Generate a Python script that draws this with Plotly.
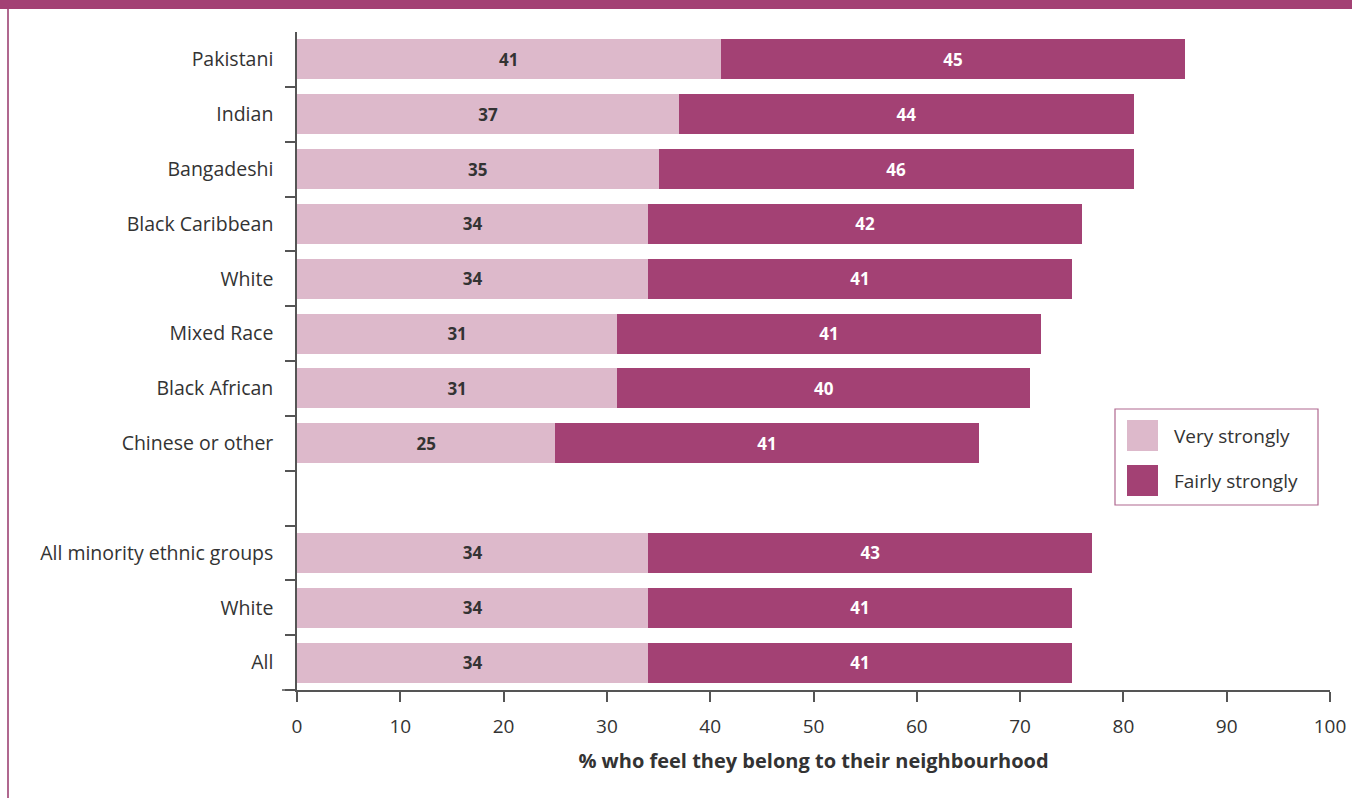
import plotly.graph_objects as go

# Data
ids = ["Pakistani", "Indian", "Bangadeshi", "Black Caribbean", "White_a", "Mixed Race",
       "Black African", "Chinese or other", "gap", "All minority ethnic groups", "White_b", "All"]
labels = ["Pakistani", "Indian", "Bangadeshi", "Black Caribbean", "White", "Mixed Race",
          "Black African", "Chinese or other", "", "All minority ethnic groups", "White", "All"]
very_strongly = [41, 37, 35, 34, 34, 31, 31, 25, None, 34, 34, 34]
fairly_strongly = [45, 44, 46, 42, 41, 41, 40, 41, None, 43, 41, 41]
x_ticks = [0, 10, 20, 30, 40, 50, 60, 70, 80, 90, 100]

LIGHT = "#DDB9CB"
DARK = "#A34174"
TEXT = "#333333"
AXIS = "#555555"
FONT = "Open Sans"

W, H = 1352, 798
L, R, T, B = 297, 22, 32, 108
pw, ph = W - L - R, H - T - B

def px_x(p):
    return (p - L) / pw

def px_y(p):
    return (H - B - p) / ph

fig = go.Figure()
fig.add_trace(go.Bar(
    y=ids, x=very_strongly, orientation="h", name="Very strongly",
    marker=dict(color=LIGHT, line=dict(width=0)),
    text=[("" if v is None else str(v)) for v in very_strongly],
    textposition="inside", insidetextanchor="middle",
    textfont=dict(family=FONT, size=17, color=TEXT, weight="bold"),
    showlegend=False, hoverinfo="x+y",
))
fig.add_trace(go.Bar(
    y=ids, x=fairly_strongly, orientation="h", name="Fairly strongly",
    marker=dict(color=DARK, line=dict(width=0)),
    text=[("" if v is None else str(v)) for v in fairly_strongly],
    textposition="inside", insidetextanchor="middle",
    textfont=dict(family=FONT, size=17, color="white", weight="bold"),
    showlegend=False, hoverinfo="x+y",
))

fig.update_layout(
    width=W, height=H, autosize=False,
    margin=dict(l=L, r=R, t=T, b=B, pad=0),
    barmode="stack", bargap=0.27,
    plot_bgcolor="white", paper_bgcolor="white",
    font=dict(family=FONT, color=TEXT, size=19),
    xaxis=dict(
        range=[0, 100], tickvals=x_ticks, ticktext=[str(v) for v in x_ticks],
        automargin=False,
        showgrid=False, zeroline=False,
        showline=True, linecolor=AXIS, linewidth=1.5,
        ticks="outside", ticklen=10, tickwidth=1.5, tickcolor=AXIS,
        tickfont=dict(size=19, color=TEXT, family=FONT),
        ticklabelstandoff=8,
        title=dict(text="<b>% who feel they belong to their neighbourhood</b>",
                   font=dict(size=20, color=TEXT, family=FONT), standoff=16),
    ),
    yaxis=dict(
        type="category", categoryorder="array", categoryarray=ids[::-1],
        tickvals=ids, ticktext=labels,
        automargin=False,
        autorange=False, range=[-0.5, len(ids) - 0.5],
        showgrid=False, zeroline=False,
        showline=True, linecolor=AXIS, linewidth=1.5,
        ticks="outside", tickson="boundaries", ticklen=10, tickwidth=1.5, tickcolor=AXIS,
        tickfont=dict(size=19.5, color=TEXT, family=FONT),
        ticklabelstandoff=18,
    ),
)

shapes = []
# header band
shapes.append(dict(type="rect", xref="paper", yref="paper",
                   x0=px_x(-2), x1=px_x(W + 2), y0=px_y(9), y1=px_y(-2),
                   fillcolor=DARK, line=dict(width=0), layer="above"))
# left border
shapes.append(dict(type="line", xref="paper", yref="paper",
                   x0=px_x(8), x1=px_x(8), y0=px_y(9), y1=px_y(H + 2),
                   line=dict(color="#B0688F", width=2)))
# x-axis extension to the left
shapes.append(dict(type="line", xref="paper", yref="paper",
                   x0=px_x(282), x1=0, y0=0, y1=0,
                   line=dict(color=AXIS, width=1.5)))
# legend box
shapes.append(dict(type="rect", xref="paper", yref="paper",
                   x0=px_x(1115), x1=px_x(1318), y0=px_y(505), y1=px_y(409),
                   fillcolor="white", line=dict(color="#B0688F", width=1.2)))
shapes.append(dict(type="rect", xref="paper", yref="paper",
                   x0=px_x(1127), x1=px_x(1158), y0=px_y(451), y1=px_y(420),
                   fillcolor=LIGHT, line=dict(width=0)))
shapes.append(dict(type="rect", xref="paper", yref="paper",
                   x0=px_x(1127), x1=px_x(1158), y0=px_y(496), y1=px_y(465),
                   fillcolor=DARK, line=dict(width=0)))
fig.update_layout(shapes=shapes)

fig.add_annotation(xref="paper", yref="paper", x=px_x(1172), y=px_y(436),
                   text="Very strongly", showarrow=False, xanchor="left", yanchor="middle",
                   font=dict(size=19, color=TEXT, family=FONT))
fig.add_annotation(xref="paper", yref="paper", x=px_x(1172), y=px_y(481),
                   text="Fairly strongly", showarrow=False, xanchor="left", yanchor="middle",
                   font=dict(size=19, color=TEXT, family=FONT))

fig.write_html(
    "out.html",
    config={"displayModeBar": False},
    post_script="document.body.style.margin='0';document.body.style.overflow='hidden';",
)
